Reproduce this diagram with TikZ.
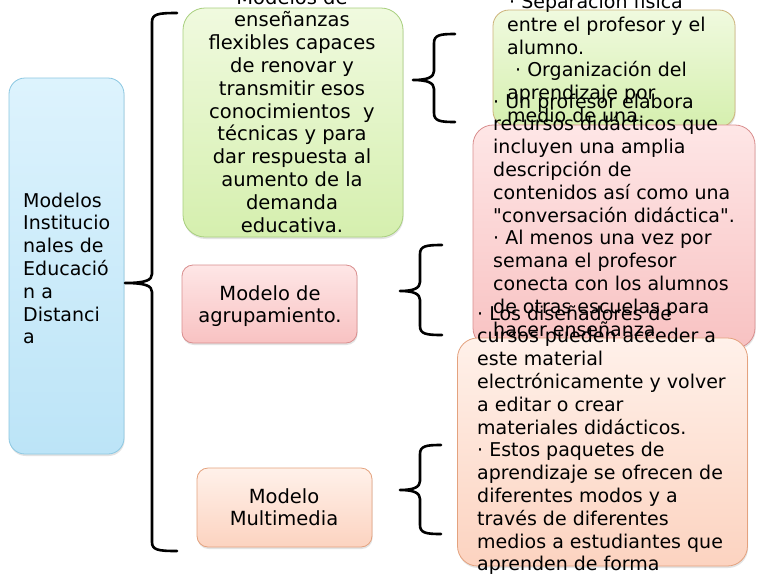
\documentclass[tikz,border=0pt]{standalone}
\usepackage{fontspec}
\setmainfont{DejaVu Sans}
\usetikzlibrary{shadows}
\definecolor{bluetop}{HTML}{DDF3FD}
\definecolor{bluebot}{HTML}{BCE4F7}
\definecolor{blueline}{HTML}{8CC8E2}
\definecolor{greentop}{HTML}{F0FADF}
\definecolor{greenbot}{HTML}{D5EFAE}
\definecolor{greenline}{HTML}{A8CF7E}
\definecolor{tanline}{HTML}{CDB37A}
\definecolor{pinktop}{HTML}{FEE6E6}
\definecolor{pinkbot}{HTML}{F8C2C2}
\definecolor{pinkline}{HTML}{D98E8E}
\definecolor{salmtop}{HTML}{FFF1EA}
\definecolor{salmbot}{HTML}{FCD3C0}
\definecolor{salmline}{HTML}{E4A27E}
\newcommand\mybrace[6]{% tip x, vertical x, end x, top y, tip y, bottom y
  \draw[brk] (#3,#4) .. controls ({#2+6},#4) and (#2,{#4+1}) .. (#2,{#4+9})
    -- (#2,{#5-9}) .. controls (#2,{#5-3}) and ({#2-6},#5) .. (#1,#5)
    .. controls ({#2-6},#5) and (#2,{#5+3}) .. (#2,{#5+9})
    -- (#2,{#6-9}) .. controls (#2,{#6-1}) and ({#2+6},#6) .. (#3,#6);}
\tikzset{
  box/.style={draw, line width=0.8pt, rounded corners=#1, inner sep=0pt,
    drop shadow={shadow xshift=0.6pt, shadow yshift=-2pt, opacity=0.22}},
  box/.default=14pt,
  txt/.style={inner sep=0pt, font=\fontsize{19}{22.8}\selectfont, align=left, anchor=base west},
  ctxt/.style={inner sep=0pt, font=\fontsize{19.5}{22.8}\selectfont, align=center, anchor=base},
  brk/.style={line width=2.6pt, line cap=round, line join=round}
}
\begin{document}
\begin{tikzpicture}[x=1pt,y=-1pt]
\useasboundingbox (0,0) rectangle (768,576);
\fill[white] (0,0) rectangle (768,576);

% left root box
\node[box=16pt, top color=bluetop, bottom color=bluebot, draw=blueline,
  minimum width=115pt, minimum height=376pt] (root) at (66.5,266) {};
\node[txt] (roottxt) at (23,343.8) {Modelos\\Institucio\\nales de\\Educació\\n a\\Distanci\\a};

% big bracket
\mybrace{125}{152}{177}{13}{283}{551}

% green model box
\node[box=22pt, top color=greentop, bottom color=greenbot, draw=greenline,
  minimum width=220pt, minimum height=229pt] (flex) at (293,122.5) {};
\node[ctxt] (flextxt) at (292,232) {Modelos de\\enseñanzas\\flexibles capaces\\de renovar y\\transmitir esos\\conocimientos\ \ y\\técnicas y para\\dar respuesta al\\aumento de la\\demanda\\educativa.};

% agrupamiento box
\node[box=11pt, top color=pinktop, bottom color=pinkbot, draw=pinkline,
  minimum width=175pt, minimum height=78pt] (agrup) at (269.5,304) {};
\node[ctxt] (agruptxt) at (270,322.8) {Modelo de\\agrupamiento.};

% multimedia box
\node[box=11pt, top color=salmtop, bottom color=salmbot, draw=salmline,
  minimum width=175pt, minimum height=79pt] (multi) at (284.5,507.5) {};
\node[ctxt] (multitxt) at (284,525.8) {Modelo\\Multimedia};

% right brackets
\mybrace{413}{434}{455}{34}{80}{122}
\mybrace{400}{420}{442}{245}{291}{335}
\mybrace{400}{420}{441}{445}{490}{534}

% right green box
\node[box=16pt, top color=greentop, bottom color=greenbot, draw=tanline,
  minimum width=242pt, minimum height=117pt] (sep) at (614,68.5) {};
\node[txt] (septxt) at (507,122.5) {\hspace*{2pt}· Separación física\\entre el profesor y el\\alumno.\\\hspace*{8pt}· Organización del\\aprendizaje por\\medio de una.};

% right pink box
\node[box=20pt, top color=pinktop, bottom color=pinkbot, draw=pinkline,
  minimum width=282pt, minimum height=223pt] (prof) at (614,236.5) {};
\node[txt] (proftxt) at (493,336) {· Un profesor elabora\\recursos didácticos que\\incluyen una amplia\\descripción de\\contenidos así como una\\\textquotedbl conversación didáctica\textquotedbl.\\· Al menos una vez por\\semana el profesor\\conecta con los alumnos\\de otras escuelas para\\hacer enseñanza};

% right salmon box
\node[box=20pt, top color=salmtop, bottom color=salmbot, draw=salmline,
  minimum width=290pt, minimum height=228pt] (dis) at (602.5,452) {};
\node[txt] (distxt) at (477,570.8) {· Los diseñadores de\\cursos pueden acceder a\\este material\\electrónicamente y volver\\a editar o crear\\materiales didácticos.\\· Estos paquetes de\\aprendizaje se ofrecen de\\diferentes modos y a\\través de diferentes\\medios a estudiantes que\\aprenden de forma};
\end{tikzpicture}
\end{document}
